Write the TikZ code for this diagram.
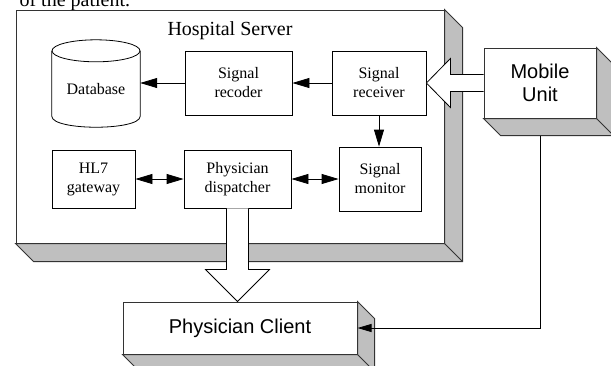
\documentclass[tikz,border=0pt]{standalone}
\usepackage{fontspec}
\setmainfont{Liberation Serif}
\newfontfamily\arialfont{Liberation Sans}
\usetikzlibrary{arrows.meta,calc}

\tikzset{
  unit/.style={draw, fill=white, line width=0.8pt, align=center, inner sep=0pt,
    font=\fontsize{16}{19}\selectfont},
  frame/.style={draw=black!80, fill=white, line width=1pt, inner sep=0pt, align=center},
  side/.style={fill=black!25, draw=black!80, line width=1pt, line join=miter},
  flow/.style={-{Triangle[length=17pt,width=10pt]}, line width=0.8pt},
  dflow/.style={{Triangle[length=17pt,width=10pt]}-{Triangle[length=17pt,width=10pt]}, line width=0.8pt},
  bigarrow/.style={draw, fill=white, line width=0.8pt, line join=miter},
}

% side and bottom faces of a raised box
\newcommand{\extrude}[2]{%
  \filldraw[side] (#1.north east) -- ++(#2,#2) -- ($(#1.south east)+(#2,#2)$)
    -- ($(#1.south west)+(#2,#2)$) -- (#1.south west) -- (#1.south east) -- cycle;
  \draw[side] (#1.south east) -- ++(#2,#2);}

\begin{document}
\begin{tikzpicture}[x=1pt,y=-1pt]
\useasboundingbox (0,0) rectangle (611,365);

\node[anchor=base west, font=\fontsize{20}{24}\selectfont] (caption) at (16,6) {of the patient.};

% server frame
\node[frame, minimum width=428pt, minimum height=233pt] (server) at (230,126.5) {};
\extrude{server}{18}
\node[font=\fontsize{20}{24}\selectfont] (servertitle) at (230,31) {Hospital Server};

% database
\node[minimum width=88pt, minimum height=76pt, inner sep=0pt, font=\fontsize{16}{19}\selectfont] (db) at (96,89) {Database};
\draw[line width=0.8pt] (db.north west) -- ($(db.south west)+(0,-11)$)
  .. controls +(0,14.7) and +(0,14.7) .. ($(db.south east)+(0,-11)$) -- (db.north east);
\draw[line width=0.8pt] (db.north) ellipse[x radius=44, y radius=11];

% server modules
\node[unit, minimum width=107pt, minimum height=64pt] (recoder) at (238.5,83) {Signal\\recoder};
\node[unit, minimum width=94pt, minimum height=64pt] (receiver) at (379,83) {Signal\\receiver};
\node[unit, minimum width=83pt, minimum height=58pt] (gateway) at (93.5,179) {HL7\\gateway};
\node[unit, minimum width=107pt, minimum height=58pt] (dispatcher) at (237.5,179) {Physician\\dispatcher};
\node[unit, minimum width=82pt, minimum height=64pt] (monitor) at (380,179) {Signal\\monitor};

\draw[flow] (receiver.west) -- (recoder.east);
\draw[flow] (recoder.west) -- (recoder.west -| db.east);
\draw[flow] (receiver.south) -- (receiver.south |- monitor.north);
\draw[dflow] (gateway.east) -- (dispatcher.west);
\draw[dflow] (dispatcher.east) -- (monitor.west);

% mobile unit and physician client
\node[frame, minimum width=112pt, minimum height=70pt, font=\arialfont\fontsize{20}{23}\selectfont] (mobile) at (540,83) {Mobile\\Unit};
\extrude{mobile}{17}
\node[frame, minimum width=234pt, minimum height=52pt, font=\arialfont\fontsize{20}{24}\selectfont] (client) at (240,328) {Physician Client};
\extrude{client}{17}

% wide arrows
\draw[bigarrow] ($(mobile.west)+(0,-8.5)$) -- ($(receiver.east)+(24,-8.5)$)
  -- ($(receiver.east)+(24,-24.5)$) -- (receiver.east) -- ($(receiver.east)+(24,24.5)$)
  -- ($(receiver.east)+(24,8.5)$) -- ($(mobile.west)+(0,8.5)$);
\coordinate (tipc) at (dispatcher.south |- client.north);
\draw[bigarrow] ($(dispatcher.south)+(-11,0)$) -- ($(tipc)+(-11,-32)$)
  -- ($(tipc)+(-32,-32)$) -- (tipc) -- ($(tipc)+(32,-32)$)
  -- ($(tipc)+(11,-32)$) -- ($(dispatcher.south)+(11,0)$);

\draw[-{Triangle[length=14pt,width=8pt]}, line width=0.8pt]
  ($(mobile.south)+(0,17)$) |- (client.east);
\end{tikzpicture}
\end{document}
